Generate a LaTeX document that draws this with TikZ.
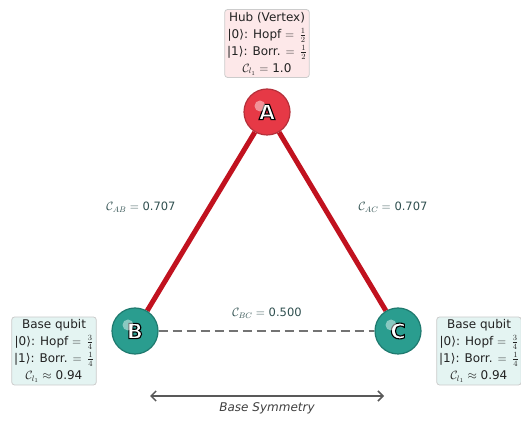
\documentclass[tikz,border=0pt]{standalone}
\usepackage{fontspec}
\setmainfont{DejaVu Sans}
\usetikzlibrary{arrows.meta,positioning,backgrounds}

\definecolor{hubred}{HTML}{E63946}
\definecolor{hubedge}{HTML}{B5303A}
\definecolor{linkred}{HTML}{C1121F}
\definecolor{baseteal}{HTML}{2A9D8F}
\definecolor{baseedge}{HTML}{1F7A6F}
\definecolor{hubfill}{HTML}{FDE8E9}
\definecolor{basefill}{HTML}{E4F4F2}
\definecolor{labelgray}{HTML}{2F4F4F}
\definecolor{textgray}{HTML}{222222}

% outlined white letter
\newcommand{\qlabel}[1]{\textcolor{white}{\special{pdf:code 0 0 0 RG 1.1 w 2 Tr}#1\special{pdf:code 0 Tr}}}
% small fraction in a box line
\newcommand{\sfrac}[2]{$=\,\frac{#1}{#2}$}

\begin{document}
\begin{tikzpicture}[x=1pt, y=1pt, thick]
    % Styles
    \tikzstyle{qubit} = [circle, draw, line width=1.2pt, minimum size=46pt, inner sep=0pt, font=\fontsize{21}{21}\selectfont\bfseries]
    \tikzstyle{hub} = [qubit, fill=hubred, draw=hubedge]
    \tikzstyle{base} = [qubit, fill=baseteal, draw=baseedge]
    \tikzstyle{info_box} = [rectangle, draw=black!20, rounded corners=3pt, align=center, text=textgray, font=\fontsize{12}{17}\selectfont, inner sep=2.5pt, minimum width=84pt]
    \tikzstyle{link} = [line width=5pt, linkred]
    \tikzstyle{coh_label} = [text=labelgray, font=\fontsize{11.5}{13}\selectfont]
    \tikzstyle{gloss} = [circle, fill=white, opacity=0.45, minimum size=11pt, inner sep=0pt]

    \useasboundingbox (0,0) rectangle (521,422);

    % Qubits
    \node [hub] (a) at (267,310) {\qlabel{A}};
    \node [base] (b) at (135,91) {\qlabel{B}};
    \node [base] (c) at (398,91) {\qlabel{C}};
    \node [gloss] at ([shift={(-7,6)}]a.center) {};
    \node [gloss] at ([shift={(-7,6)}]b.center) {};
    \node [gloss] at ([shift={(-7,6)}]c.center) {};

    % Links
    \begin{scope}[on background layer]
    \draw [link] (a) -- (b);
    \draw [link] (a) -- (c);
    \draw [black!55, line width=2.8pt, dash pattern=on 9pt off 5pt] (b) -- (c);
    \end{scope}

    % Coherence labels
    \node [coh_label] (lab_ab) at (141,215) {$\mathcal{C}_{AB}=$ 0.707};
    \node [coh_label] (lab_ac) at (393,215) {$\mathcal{C}_{AC}=$ 0.707};
    \node [coh_label] (lab_bc) at (267,109) {$\mathcal{C}_{BC}=$ 0.500};

    % Info boxes
    \node [info_box, fill=hubfill] (hub_box) at (267,378.5) {Hub (Vertex)\\|0⟩: Hopf \sfrac{1}{2}\\|1⟩: Borr. \sfrac{1}{2}\\$\mathcal{C}_{l_1}=$ 1.0};
    \node [info_box, fill=basefill] (box_b) at (54,71) {Base qubit\\|0⟩: Hopf \sfrac{3}{4}\\|1⟩: Borr. \sfrac{1}{4}\\$\mathcal{C}_{l_1}\approx$ 0.94};
    \node [info_box, fill=basefill] (box_c) at (479,71) {Base qubit\\|0⟩: Hopf \sfrac{3}{4}\\|1⟩: Borr. \sfrac{1}{4}\\$\mathcal{C}_{l_1}\approx$ 0.94};

    % Symmetry arrow
    \coordinate (sym_l) at (150,26);
    \coordinate (sym_r) at (384,26);
    \draw [{Straight Barb[length=5pt]}-{Straight Barb[length=5pt]}, black!65, line width=1.5pt] (sym_l) -- (sym_r)
        node [midway, below=3pt, text=black!75, font=\fontsize{12}{14}\selectfont\itshape] (sym_label) {Base Symmetry};
\end{tikzpicture}
\end{document}
